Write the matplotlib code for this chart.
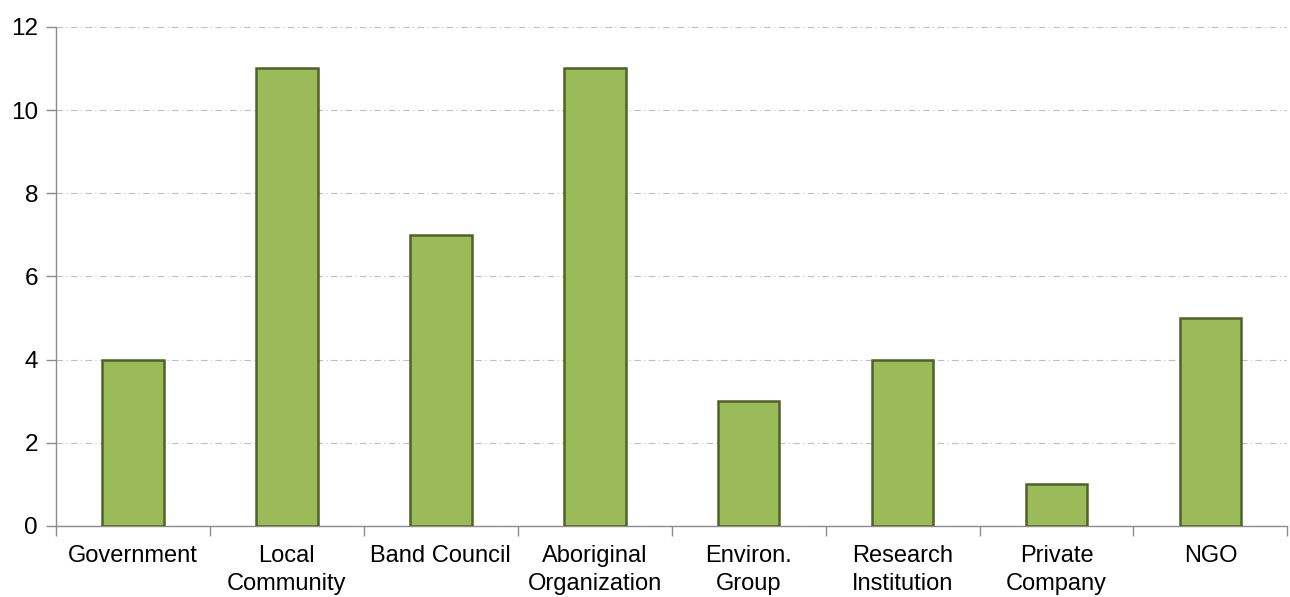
#!env python3

import numpy as np
import matplotlib
matplotlib.use("Agg")
import matplotlib.pyplot as plt

categories = ["Government", "Local\nCommunity", "Band Council", "Aboriginal\nOrganization",
              "Environ.\nGroup", "Research\nInstitution", "Private\nCompany", "NGO"]
counts = [4, 11, 7, 11, 3, 4, 1, 5]
yticks = [0, 2, 4, 6, 8, 10, 12]

plt.rcParams['font.family'] = ['Liberation Sans', 'DejaVu Sans']

fig = plt.figure(figsize=(12.9, 5.97), dpi=100)
ax = fig.add_axes([0.0434, 0.119, 0.9546, 0.836])

x = np.arange(len(categories))
ax.bar(x, counts, width=0.4, color='#9BBB59', edgecolor='#4F6228', linewidth=1.8, zorder=3)

ax.set_xlim(-0.5, len(categories) - 0.5)
ax.set_ylim(0, 12)
ax.set_yticks(yticks)
ax.yaxis.grid(True, color='#BFBFBF', linestyle=(0, (6, 3, 1, 3)), linewidth=0.8, zorder=0)

ax.set_xticks(x)
ax.set_xticklabels(categories, fontsize=17, linespacing=1.3)
ax.tick_params(axis='x', which='major', length=0, pad=14)
ax.set_xticks(np.arange(-0.5, len(categories), 1.0), minor=True)
ax.tick_params(axis='x', which='minor', length=7, color='#8C8C8C', width=1)
ax.tick_params(axis='y', labelsize=17.5, length=7, color='#8C8C8C', width=1, pad=6)

for s in ['top', 'right']:
    ax.spines[s].set_visible(False)
for s in ['left', 'bottom']:
    ax.spines[s].set_color('#8C8C8C')
    ax.spines[s].set_linewidth(1)

fig.savefig('out.png', dpi=100)
